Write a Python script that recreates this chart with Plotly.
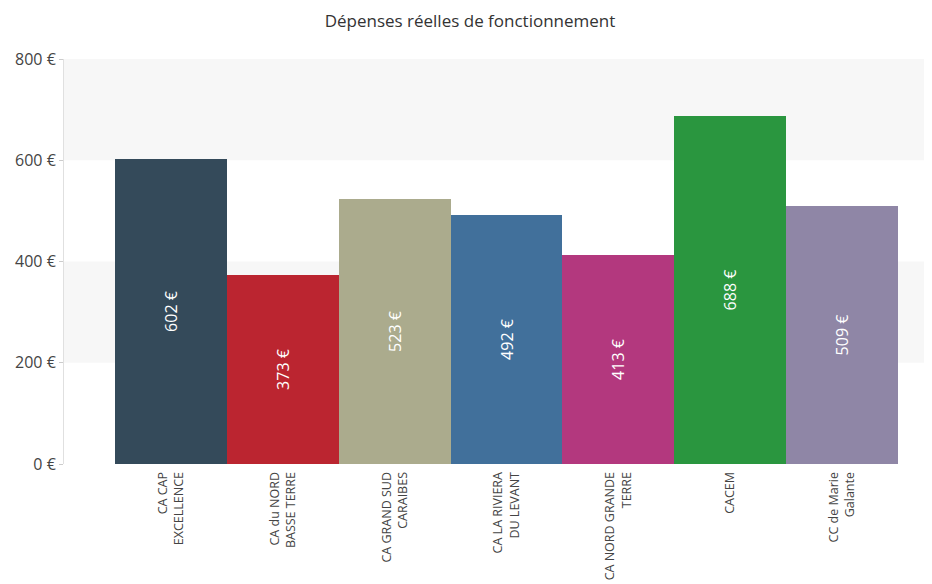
import plotly.graph_objects as go

categories = ["CA CAP<br>EXCELLENCE", "CA du NORD<br>BASSE TERRE", "CA GRAND SUD<br>CARAIBES",
              "CA LA RIVIERA<br>DU LEVANT", "CA NORD GRANDE<br>TERRE", "CACEM", "CC de Marie<br>Galante"]
values = [602, 373, 523, 492, 413, 688, 509]
colors = ["#344a5a", "#bb2530", "#abab8d", "#41709b", "#b3387e", "#2a963f", "#8f86a6"]
y_ticks = [0, 200, 400, 600, 800]
band_ranges = [(200, 400), (600, 800)]

fig = go.Figure()
fig.add_trace(go.Bar(
    x=list(range(len(categories))), y=values,
    marker=dict(color=colors, line=dict(width=0)),
    text=[f"{v} €" for v in values],
    textposition="inside", insidetextanchor="middle", textangle=-90,
    textfont=dict(color="white", size=16, family="Open Sans"),
    hoverinfo="skip",
))

for lo, hi in band_ranges:
    fig.add_shape(type="rect", xref="paper", x0=0, x1=1, yref="y", y0=lo, y1=hi,
                  fillcolor="#f7f7f7", line=dict(width=0), layer="below")

fig.update_layout(
    width=924, height=576,
    margin=dict(l=56, r=0, t=51, b=120, autoexpand=False),
    paper_bgcolor="white", plot_bgcolor="white",
    bargap=0, showlegend=False,
    title=dict(text="Dépenses réelles de fonctionnement", x=0.5, xanchor="center",
               y=1 - 13 / 576, yanchor="middle",
               font=dict(family="Open Sans", size=17, color="#333333")),
    font=dict(family="Open Sans", color="#444444"),
)
fig.update_xaxes(
    tickmode="array", tickvals=list(range(len(categories))), ticktext=categories,
    tickangle=-90, range=[-0.955, 6.804], showgrid=False, zeroline=False,
    showline=False, ticks="outside", ticklen=2, tickcolor="rgba(0,0,0,0)",
    tickfont=dict(size=12.5, color="#444444"), automargin=False,
)
fig.update_yaxes(
    range=[0, 800], tickmode="array", tickvals=y_ticks,
    ticktext=[f"{v} €" for v in y_ticks],
    showgrid=False, zeroline=False, showline=True, linecolor="#e0e0e0", linewidth=1,
    ticks="outside", ticklen=4, tickcolor="#cccccc",
    tickfont=dict(size=16, color="#444444"), automargin=False,
)

fig.write_html("out.html")
